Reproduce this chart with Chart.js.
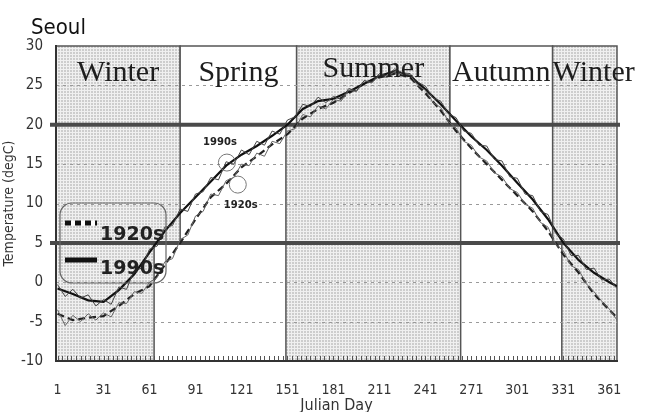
<!DOCTYPE html>
<html>
<head>
<meta charset="utf-8">
<title>Seoul - daily temperature, 1920s vs 1990s</title>
<script src="https://cdn.jsdelivr.net/npm/chart.js@4.4.1/dist/chart.umd.min.js"></script>
<style>
  html, body { margin: 0; padding: 0; background: #fff; }
  #chart { display: block; }
</style>
</head>
<body>
<canvas id="chart" width="656" height="412"></canvas>
<script>
const rawDays = [1, 6, 11, 16, 21, 26, 31, 36, 41, 46, 51, 56, 61, 66, 71, 76, 81, 86, 91, 96,
    101, 106, 111, 116, 121, 126, 131, 136, 141, 146, 151, 156, 161, 166, 171, 176, 181, 186, 191, 196,
    201, 206, 211, 216, 221, 226, 231, 236, 241, 246, 251, 256, 261, 266, 271, 276, 281, 286, 291, 296,
    301, 306, 311, 316, 321, 326, 331, 336, 341, 346, 351, 356, 361, 366];
const raw1990s = [-0.3, -1.8, -0.9, -2.0, -1.6, -3.0, -2.2, -2.8, -0.6, -0.9, 1.5, 1.8, 4.2, 4.6, 7.0, 7.2, 9.3, 9.0, 11.2, 11.5,
    13.3, 13.0, 15.3, 15.0, 16.8, 16.2, 17.9, 17.4, 19.2, 18.8, 20.6, 21.0, 22.6, 22.3, 23.5, 22.8, 23.6, 23.2, 24.6, 24.3,
    25.6, 25.4, 26.5, 26.2, 27.1, 26.6, 26.5, 25.4, 24.9, 23.4, 23.0, 21.4, 20.9, 19.2, 18.9, 17.4, 17.3, 15.6, 15.4, 13.4,
    13.2, 11.2, 11.0, 9.0, 8.6, 6.2, 5.5, 3.4, 3.4, 1.6, 1.8, 0.3, 0.4, -0.8];
const raw1920s = [-3.5, -5.5, -4.2, -5.0, -4.0, -4.8, -3.9, -4.4, -2.6, -2.7, -1.2, -1.4, 0.0, 0.6, 2.6, 3.0, 5.4, 6.0, 8.4, 9.0,
    11.2, 11.0, 12.9, 13.3, 15.0, 14.8, 16.4, 16.0, 17.9, 17.6, 19.2, 19.5, 21.3, 21.0, 22.4, 22.0, 23.2, 23.0, 24.4, 24.2,
    25.6, 25.3, 26.3, 26.0, 26.8, 26.4, 26.3, 25.0, 24.4, 22.8, 22.2, 20.4, 19.6, 17.9, 17.4, 15.9, 15.4, 13.9, 13.4, 11.9,
    11.4, 9.9, 9.4, 7.6, 7.0, 4.8, 4.0, 2.1, 1.6, -0.2, -1.2, -2.4, -3.4, -4.8];

// smoothed curves (10-day sampled)
const smoothDays = [1, 11, 21, 31, 41, 51, 61, 71, 81, 91, 101, 111, 121, 131, 141, 151, 161, 171, 181, 191,
    201, 211, 221, 231, 241, 251, 261, 271, 281, 291, 301, 311, 321, 331, 341, 351, 361, 366];
const smooth1990s = [-0.8, -1.5, -2.3, -2.5, -1.0, 1.0, 3.8, 6.5, 8.8, 10.8, 12.8, 14.8, 16.2, 17.3, 18.6, 20.0, 22.0, 23.0, 23.3, 24.2,
    25.2, 26.2, 26.8, 26.2, 24.5, 22.6, 20.5, 18.5, 16.8, 14.8, 12.6, 10.5, 8.0, 5.0, 2.8, 1.2, 0.0, -0.5];
const smooth1920s = [-4.0, -4.8, -4.5, -4.3, -3.0, -1.5, -0.5, 2.2, 5.0, 8.0, 10.8, 12.5, 14.6, 16.0, 17.5, 18.8, 20.8, 22.0, 22.8, 24.0,
    25.2, 26.0, 26.5, 26.0, 24.0, 21.8, 19.2, 17.0, 15.0, 13.0, 11.0, 9.0, 6.5, 3.5, 1.2, -1.5, -3.5, -4.5];

const xTickLabels = [1, 31, 61, 91, 121, 151, 181, 211, 241, 271, 301, 331, 361];
const yTickLabels = [-10, -5, 0, 5, 10, 15, 20, 25, 30];

// season edges (Julian day) and thresholds
const seasonNames = ['Winter', 'Spring', 'Summer', 'Autumn', 'Winter'];
const edges1920s = [0, 81, 157, 257, 324, 366];
const edges1990s = [0, 64, 150, 264, 330, 366];
const winterLimit = 5;
const summerLimit = 20;

// the two circled spots in spring
const marks = [
    { label: '1990s', day: 111.5, temp: 15.2, textDay: 107, textTemp: 17.8 },
    { label: '1920s', day: 118.6, temp: 12.4, textDay: 120.5, textTemp: 9.8 }
];

const narrow = "'DejaVu Sans', 'Liberation Sans', sans-serif";
const serif = "'Liberation Serif', 'Times New Roman', serif";
const boldSans = "'DejaVu Sans', Verdana, sans-serif";

let stipple = null;
function getStipple(ctx) {
    if (stipple) return stipple;
    const c = document.createElement('canvas');
    c.width = 3; c.height = 3;
    const g = c.getContext('2d');
    g.fillStyle = '#f0f0f0'; g.fillRect(0, 0, 3, 3);
    g.fillStyle = '#cdcdcd'; g.fillRect(1, 1, 2, 2);
    stipple = ctx.createPattern(c, 'repeat');
    return stipple;
}

function box(chart, d0, d1, t0, t1, grey) {
    const { ctx, scales: { x, y } } = chart;
    const x0 = x.getPixelForValue(d0), x1 = x.getPixelForValue(d1);
    const y0 = y.getPixelForValue(t1), y1 = y.getPixelForValue(t0);
    ctx.fillStyle = grey ? getStipple(ctx) : '#fff';
    ctx.fillRect(x0, y0, x1 - x0, y1 - y0);
    ctx.strokeStyle = '#555';
    ctx.lineWidth = 1.5;
    ctx.strokeRect(x0, y0, x1 - x0, y1 - y0);
}

const backdrop = {
    id: 'backdrop',
    beforeDraw(chart) {
        const { ctx, chartArea: area, scales: { x, y } } = chart;
        ctx.save();
        // 1990s seasons, lower tier
        seasonNames.forEach((name, i) => {
            if (name === 'Winter') box(chart, edges1990s[i], edges1990s[i + 1], -10, winterLimit, true);
            if (name === 'Summer') box(chart, edges1990s[i], edges1990s[i + 1], -10, summerLimit, true);
        });
        // 1920s seasons, upper tier
        seasonNames.forEach((name, i) => {
            const low = name === 'Winter' ? winterLimit : summerLimit;
            box(chart, edges1920s[i], edges1920s[i + 1], low, 30, name === 'Winter' || name === 'Summer');
        });
        // dashed grid
        ctx.strokeStyle = '#9a9a9a';
        ctx.lineWidth = 1;
        ctx.setLineDash([3, 4]);
        yTickLabels.forEach(v => {
            if (v === winterLimit || v === summerLimit || v === 30 || v === -10) return;
            const py = Math.round(y.getPixelForValue(v)) + 0.5;
            ctx.beginPath(); ctx.moveTo(area.left, py); ctx.lineTo(area.right, py); ctx.stroke();
        });
        ctx.setLineDash([]);
        // small day ticks along the bottom
        ctx.strokeStyle = '#555';
        for (let d = 1; d <= 365; d += 3) {
            const px = Math.round(x.getPixelForValue(d)) + 0.5;
            ctx.beginPath(); ctx.moveTo(px, area.bottom); ctx.lineTo(px, area.bottom - 5); ctx.stroke();
        }
        ctx.restore();
    },
    beforeDatasetsDraw(chart) {
        const { ctx, chartArea: area, scales: { y } } = chart;
        ctx.save();
        ctx.strokeStyle = '#4a4a4a';
        ctx.lineWidth = 4;
        [summerLimit, winterLimit].forEach(v => {
            const py = y.getPixelForValue(v);
            ctx.beginPath(); ctx.moveTo(area.left - 6, py); ctx.lineTo(area.right + 3, py); ctx.stroke();
        });
        ctx.restore();
    },
    afterDatasetsDraw(chart) {
        const { ctx, chartArea: area, scales: { x, y } } = chart;
        ctx.save();

        // season words, centred on the 1920s boxes
        ctx.font = '30px ' + serif;
        ctx.fillStyle = '#1e1e1e';
        ctx.textBaseline = 'alphabetic';
        seasonNames.forEach((name, i) => {
            const x0 = x.getPixelForValue(edges1920s[i]);
            const x1 = x.getPixelForValue(edges1920s[i + 1]);
            const w = ctx.measureText(name).width;
            const left = w > x1 - x0 ? x0 : (x0 + x1 - w) / 2;
            const base = y.getPixelForValue(name === 'Summer' ? 26.1 : 25.5);
            ctx.fillText(name, left, base);
        });

        // legend box
        const L = area.left, T = area.top;
        ctx.strokeStyle = '#666';
        ctx.lineWidth = 1.2;
        ctx.beginPath();
        ctx.roundRect(L + 4, T + 157, 106, 80, 12);
        ctx.stroke();

        ctx.lineWidth = 5;
        ctx.strokeStyle = '#fff';
        ctx.beginPath(); ctx.moveTo(L + 9, T + 177); ctx.lineTo(L + 41, T + 177); ctx.stroke();
        ctx.strokeStyle = '#111';
        ctx.setLineDash([6, 4]);
        ctx.beginPath(); ctx.moveTo(L + 9, T + 177); ctx.lineTo(L + 41, T + 177); ctx.stroke();
        ctx.setLineDash([]);
        ctx.beginPath(); ctx.moveTo(L + 9, T + 214); ctx.lineTo(L + 41, T + 214); ctx.stroke();

        ctx.font = 'bold 19px ' + boldSans;
        ctx.fillStyle = '#222';
        ctx.fillText('1920s', L + 44, T + 194);
        ctx.fillText('1990s', L + 44, T + 228);

        // circled spots
        ctx.strokeStyle = '#777';
        ctx.lineWidth = 1;
        ctx.font = 'bold 10px ' + boldSans;
        ctx.textAlign = 'center';
        ctx.textBaseline = 'middle';
        marks.forEach(m => {
            ctx.beginPath();
            ctx.arc(x.getPixelForValue(m.day), y.getPixelForValue(m.temp), 8.5, 0, Math.PI * 2);
            ctx.stroke();
            ctx.fillText(m.label, x.getPixelForValue(m.textDay), y.getPixelForValue(m.textTemp));
        });

        // station name
        ctx.textAlign = 'left';
        ctx.textBaseline = 'alphabetic';
        ctx.font = 'condensed 22px ' + narrow;
        ctx.fillStyle = '#111';
        ctx.fillText('Seoul', 31, 34);
        ctx.restore();
    }
};

const toPoints = (days, vals) => days.map((d, i) => ({ x: d, y: vals[i] }));

new Chart(document.getElementById('chart'), {
    type: 'line',
    data: {
        datasets: [
            { label: '1990s daily', data: toPoints(rawDays, raw1990s), borderColor: '#444', borderWidth: 1 },
            { label: '1920s daily', data: toPoints(rawDays, raw1920s), borderColor: '#666', borderWidth: 1 },
            { label: '1990s', data: toPoints(smoothDays, smooth1990s), borderColor: '#111', borderWidth: 2.2 },
            { label: '1920s', data: toPoints(smoothDays, smooth1920s), borderColor: '#222', borderWidth: 2.2, borderDash: [7, 4] }
        ]
    },
    options: {
        responsive: false,
        animation: false,
        layout: { padding: { top: 46, right: 39, left: 0, bottom: 0 } },
        elements: { point: { radius: 0 }, line: { tension: 0, fill: false } },
        plugins: { legend: { display: false }, tooltip: { enabled: false } },
        scales: {
            x: {
                type: 'linear',
                min: 0,
                max: 366,
                afterBuildTicks: s => { s.ticks = xTickLabels.map(v => ({ value: v })); },
                afterFit: s => { s.height = 51; },
                grid: { display: false, drawTicks: false },
                border: { display: true, color: '#333', width: 2 },
                ticks: { autoSkip: false, maxRotation: 0, padding: 21, color: '#333', font: { family: narrow, weight: 'condensed', size: 14 } },
                title: { display: true, text: 'Julian Day', color: '#333', padding: { top: 0, bottom: -3 }, font: { family: narrow, weight: 'condensed', size: 16 } }
            },
            y: {
                min: -10,
                max: 30,
                afterBuildTicks: s => { s.ticks = yTickLabels.map(v => ({ value: v })); },
                afterFit: s => { s.width = 56; },
                grid: { display: false, drawTicks: false },
                border: { display: true, color: '#333', width: 2 },
                ticks: { padding: 13, color: '#333', font: { family: narrow, weight: 'condensed', size: 15 } },
                title: { display: true, text: 'Temperature (degC)', color: '#333', padding: { top: 1, bottom: 0 }, font: { family: narrow, weight: 'condensed', size: 14 } }
            }
        }
    },
    plugins: [backdrop]
});
</script>
</body>
</html>
